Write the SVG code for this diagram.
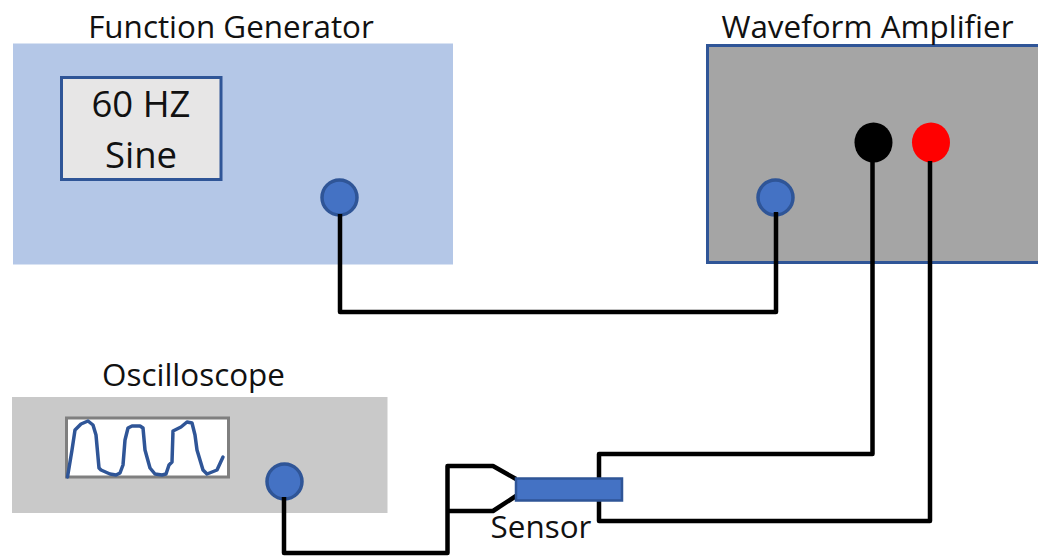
<svg xmlns="http://www.w3.org/2000/svg" width="1038" height="557" viewBox="0 0 1038 557">
<style>
text{font-family:"Open Sans","Noto Sans","DejaVu Sans",sans-serif;fill:#111;text-anchor:middle}
.lbl{font-size:31.400px}
.big{font-size:36.500px}
.port{fill:#4472C4;stroke:#2F5597;stroke-width:3.5}
.wire{fill:none;stroke:#000;stroke-width:4.5;stroke-linejoin:round}
</style>
<rect width="1038" height="557" fill="#fff"/>
<g id="function-generator">
<rect x="13" y="43.500" width="440" height="221" fill="#B4C7E7"/>
<text class="lbl" x="231" y="38">Function Generator</text>
<rect x="61.500" y="77.500" width="159.500" height="102" fill="#E7E6E6" stroke="#2F5597" stroke-width="3"/>
<text class="big" x="141" y="117">60 HZ</text>
<text class="big" x="141" y="168">Sine</text>
<circle class="port" cx="339.500" cy="197.500" r="17.500"/>
</g>
<g id="waveform-amplifier">
<rect x="707.500" y="45.500" width="340" height="217" fill="#A5A5A5" stroke="#2F5597" stroke-width="3"/>
<text class="lbl" x="867.500" y="38">Waveform Amplifier</text>
<circle class="port" cx="775.500" cy="197.500" r="17.500"/>
<ellipse cx="873.500" cy="142.500" rx="19" ry="20" fill="#000"/>
<ellipse cx="931" cy="142.500" rx="19" ry="20" fill="#f00"/>
</g>
<g id="oscilloscope">
<rect x="12" y="397" width="375.500" height="116" fill="#C9C9C9"/>
<text class="lbl" x="193.500" y="386">Oscilloscope</text>
<rect x="66.500" y="418" width="162" height="59" fill="#fff" stroke="#7F7F7F" stroke-width="3"/>
<path d="M67.500 477L72 450L75 430L81 424L88 421L93 425L96 435L99 468L101 470L110 474L116 475L120 473L123 465L125 440L128 428L132 426L140 426L143 428L145 450L150 468L155 474L162 475L166 474L169 465L172 462L173 431L181 427L187 422L192 423L195 435L197 450L203 470L207 474L217 470L223 457" fill="none" stroke="#2F5597" stroke-width="3.500" stroke-linejoin="round" stroke-linecap="round"/>
<circle class="port" cx="284.500" cy="481.500" r="17.500"/>
</g>
<g id="connectors">
<path class="wire" d="M340 214V312H776V212"/>
<path class="wire" d="M284 497V553H447.500V466H493L516 479"/>
<path class="wire" d="M447.500 511H493L516 496"/>
<path class="wire" d="M872.500 160V454H599V521H930V161"/>
</g>
<g id="sensor">
<rect x="516" y="478.500" width="106" height="22" fill="#4472C4" stroke="#2F5597" stroke-width="2.500"/>
<text class="lbl" x="541" y="538">Sensor</text>
</g>
</svg>
